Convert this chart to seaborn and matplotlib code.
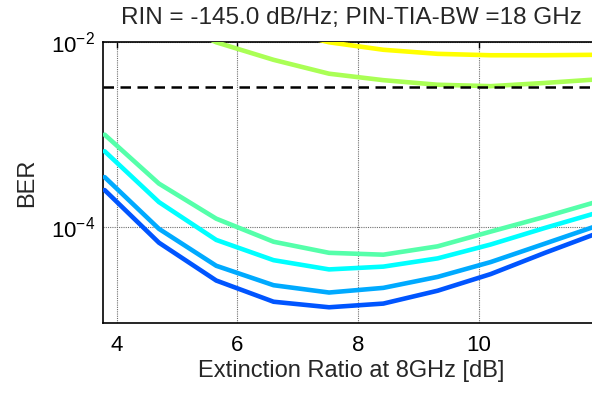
import numpy as np
import pandas as pd
import matplotlib
matplotlib.use("Agg")
import matplotlib.pyplot as plt
import matplotlib.ticker as mticker
import seaborn as sns

# ---- data ----
er_db = [3.8, 4.7, 5.65, 6.6, 7.52, 8.42, 9.32, 10.2, 11.1, 12.0]
ber_s1 = [2.51e-4, 6.76e-5, 2.63e-5, 1.55e-5, 1.35e-5, 1.48e-5, 2.04e-5, 3.09e-5, 5.25e-5, 8.71e-5]
ber_s2 = [3.47e-4, 9.55e-5, 3.80e-5, 2.34e-5, 1.95e-5, 2.19e-5, 2.88e-5, 4.17e-5, 6.61e-5, 1.05e-4]
ber_s3 = [6.61e-4, 1.86e-4, 7.24e-5, 4.37e-5, 3.47e-5, 3.72e-5, 4.57e-5, 6.46e-5, 9.77e-5, 1.45e-4]
ber_s4 = [1.00e-3, 2.95e-4, 1.23e-4, 6.92e-5, 5.25e-5, 5.01e-5, 6.17e-5, 8.91e-5, 1.29e-4, 1.91e-4]
ber_s5 = [5.0e-2, 2.0e-2, 1.0e-2, 6.46e-3, 4.57e-3, 3.89e-3, 3.47e-3, 3.35e-3, 3.63e-3, 3.98e-3]
ber_s6 = [1.58e-1, 6.3e-2, 2.5e-2, 1.41e-2, 1.0e-2, 8.3e-3, 7.5e-3, 7.24e-3, 7.24e-3, 7.33e-3]
series_names = ["s1", "s2", "s3", "s4", "s5", "s6"]
series_colors = ["#0055FF", "#00AAFF", "#00FFFF", "#55FFAA", "#AAFF55", "#FFFF00"]
ber_limit = 3.3e-3
x_ticks = [4, 6, 8, 10]
y_ticks = [1e-2, 1e-4]
title_text = "RIN = -145.0 dB/Hz; PIN-TIA-BW =18 GHz"
x_label = "Extinction Ratio at 8GHz [dB]"
y_label = "BER"

all_ber = [ber_s1, ber_s2, ber_s3, ber_s4, ber_s5, ber_s6]
df = pd.DataFrame({
    "ER": np.tile(er_db, len(series_names)),
    "BER": np.concatenate(all_ber),
    "series": np.repeat(series_names, len(er_db)),
})

sns.set_style("white")
plt.rcParams["font.family"] = ["Liberation Sans", "DejaVu Sans"]
plt.rcParams["mathtext.fontset"] = "custom"
plt.rcParams["mathtext.rm"] = "Liberation Sans"
plt.rcParams["mathtext.it"] = "Liberation Sans"

fig = plt.figure(figsize=(5.92, 3.94), dpi=100)
ax_right = 598.7
ax = fig.add_axes([103.3 / 592, 1 - 323 / 394, (ax_right - 103.3) / 592, (323 - 42.3) / 394])

sns.lineplot(data=df, x="ER", y="BER", hue="series", palette=series_colors,
             hue_order=series_names, linewidth=3.3, legend=False, ax=ax,
             sort=False, solid_joinstyle="miter", zorder=3)
ax.axhline(ber_limit, color="black", linewidth=1.8, linestyle=(0, (4.2, 2.6)), zorder=4)

ax.set_yscale("log")
ax.set_xlim(3.778, 11.99)
ax.set_ylim(10 ** -5.04, 1e-2)
ax.set_xticks(x_ticks)
ax.set_yticks(y_ticks)
ax.yaxis.set_minor_locator(mticker.NullLocator())
ax.yaxis.set_major_formatter(mticker.LogFormatterMathtext())
ax.grid(True, which="major", color="#707070", linestyle=(0, (1, 1)), linewidth=0.8, zorder=0)
ax.tick_params(direction="in", length=4, width=1, top=True, right=True,
               labelsize=16, colors="black")
ax.tick_params(axis="x", pad=8.5)
ax.tick_params(axis="y", pad=6)
for s in ax.spines.values():
    s.set_color("black")
    s.set_linewidth(1.2)

ax.set_title(title_text, fontsize=17.5, pad=13)
ax.set_xlabel(x_label, fontsize=17, labelpad=3)
ax.set_ylabel(y_label, fontsize=17, labelpad=9)

fig.savefig("out.png", dpi=100)
